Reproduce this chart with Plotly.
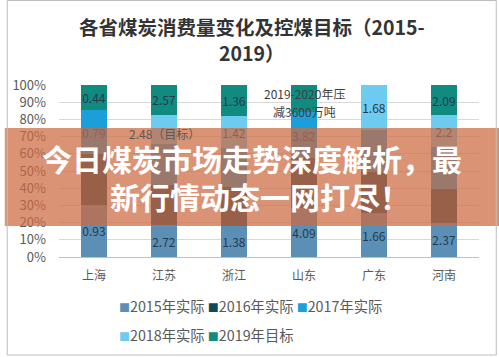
import plotly.graph_objects as go

# ---------------- data ----------------
categories = ['上海', '江苏', '浙江', '山东', '广东', '河南']
series_names = ['2015年实际', '2016年实际', '2017年实际', '2018年实际', '2019年目标']
v2015 = [0.93, 2.72, 1.38, 4.09, 1.66, 2.37]
v2016 = [0.89, 3.50, 1.70, 4.20, 1.55, 2.32]
v2017 = [0.79, 3.50, 1.70, 3.82, 1.60, 2.90]
v2018 = [0.00, 2.48, 1.42, 0.00, 1.68, 2.20]
v2019 = [0.44, 2.57, 1.36, 2.30, 0.00, 2.09]
# which data labels are shown in the original
show2015 = [1, 1, 1, 1, 1, 1]
show2016 = [1, 0, 0, 0, 0, 1]
show2017 = [1, 0, 0, 1, 0, 0]
show2018 = [0, 0, 1, 0, 1, 1]
show2019 = [1, 1, 1, 0, 0, 1]
y_tick_vals = [0, 10, 20, 30, 40, 50, 60, 70, 80, 90, 100]
y_tick_text = ['0%', '10%', '20%', '30%', '40%', '50%', '60%', '70%', '80%', '90%', '100%']
title_line1 = '各省煤炭消费量变化及控煤目标（2015-'
title_line2 = '2019）'
note_target = '2.48（目标）'
note_sd1 = '2019-2020年压'
note_sd2 = '减3600万吨'
banner_line1 = '今日煤炭市场走势深度解析，最'
banner_line2 = '新行情动态一网打尽！'

colors = ['#5b8fb5', '#0f4a5c', '#1a9fda', '#6ecbf0', '#118a80']
FONT = 'Noto Sans CJK SC'

# layout geometry (pixels)
W, H = 499, 357
ML, MR, MT, MB = 53, 20, 85, 100
PW, PH = W - ML - MR, H - MT - MB


def pxx(px):
    return (px - ML) / PW


def pxy(py):
    return (H - MB - py) / PH


series = [v2015, v2016, v2017, v2018, v2019]
shows = [show2015, show2016, show2017, show2018, show2019]

fig = go.Figure()
for name, vals, show, col in zip(series_names, series, shows, colors):
    txt = [(f'{v:g}' if s and v > 0 else '') for v, s in zip(vals, show)]
    fig.add_trace(go.Bar(
        name=name, x=categories, y=vals, marker=dict(color=col, line=dict(width=0)),
        text=txt, textposition='inside', insidetextanchor='middle', textangle=0,
        constraintext='none', texttemplate='%{text}',
        textfont=dict(family=FONT, size=12, color='#263a4c'),
        showlegend=False,
    ))

fig.update_layout(
    width=W, height=H,
    margin=dict(l=ML, r=MR, t=MT, b=MB, pad=0),
    barmode='stack', barnorm='percent', bargap=0.62,
    paper_bgcolor='white', plot_bgcolor='white',
    font=dict(family=FONT, color='#595959'),
    showlegend=False,
)
fig.update_yaxes(
    range=[0, 100], tickvals=y_tick_vals, ticktext=y_tick_text,
    showgrid=True, gridcolor='#d9d9d9', gridwidth=1, zeroline=False,
    tickfont=dict(family=FONT, size=13, color='#595959'),
    ticks='', ticklabelstandoff=12, showline=False,
)
fig.update_xaxes(
    showline=True, linecolor='#bfbfbf', linewidth=1, ticks='',
    tickfont=dict(family=FONT, size=12, color='#595959'),
    ticklabelstandoff=8,
)

ann = []
# title
ann.append(dict(text=f'<b>{title_line1}</b>', x=pxx(249), y=pxy(26), xref='paper', yref='paper',
                xanchor='center', yanchor='middle', showarrow=False,
                font=dict(family=FONT, size=19.5, color='#333333')))
ann.append(dict(text=f'<b>{title_line2}</b>', x=pxx(249), y=pxy(52), xref='paper', yref='paper',
                xanchor='center', yanchor='middle', showarrow=False,
                font=dict(family=FONT, size=19.5, color='#333333')))
# in-chart notes
ann.append(dict(text=note_target, x='江苏', y=72, xref='x', yref='y', showarrow=False,
                xanchor='center', yanchor='middle',
                font=dict(family=FONT, size=12, color='#595959')))
ann.append(dict(text=note_sd1, x=pxx(302), y=pxy(93), xref='paper', yref='paper', showarrow=False,
                xanchor='center', yanchor='middle', font=dict(family=FONT, size=12, color='#404040')))
ann.append(dict(text=note_sd2, x=pxx(302), y=pxy(112), xref='paper', yref='paper', showarrow=False,
                xanchor='center', yanchor='middle', font=dict(family=FONT, size=12, color='#404040')))


# legend rows (drawn as text with coloured squares)
def leg(items):
    parts = []
    for i in items:
        parts.append(f'<span style="color:{colors[i]};font-size:11px">■</span>{series_names[i]}')
    return ' '.join(parts)


ann.append(dict(text=leg([0, 1, 2]), x=pxx(112), y=pxy(305), xref='paper', yref='paper',
                xanchor='left', yanchor='middle', showarrow=False, align='left',
                font=dict(family=FONT, size=14.3, color='#595959')))
ann.append(dict(text=leg([3, 4]), x=pxx(112), y=pxy(334), xref='paper', yref='paper',
                xanchor='left', yanchor='middle', showarrow=False, align='left',
                font=dict(family=FONT, size=14.3, color='#595959')))
# banner text
ann.append(dict(text=f'<b>{banner_line1}</b>', x=pxx(249), y=pxy(158), xref='paper', yref='paper',
                xanchor='center', yanchor='middle', showarrow=False,
                font=dict(family=FONT, size=30, color='white')))
ann.append(dict(text=f'<b>{banner_line2}</b>', x=pxx(257), y=pxy(196), xref='paper', yref='paper',
                xanchor='center', yanchor='middle', showarrow=False,
                font=dict(family=FONT, size=30, color='white')))
fig.update_layout(annotations=ann)

# banner band and outer frame
fig.add_shape(type='rect', xref='paper', yref='paper', layer='above',
              x0=pxx(-2), x1=pxx(W + 2), y0=pxy(226), y1=pxy(128),
              fillcolor='rgba(205,105,65,0.72)', line=dict(width=0))
fig.add_shape(type='rect', xref='paper', yref='paper', layer='above',
              x0=pxx(0.5), x1=pxx(496.5), y0=pxy(355), y1=pxy(0.5),
              fillcolor='rgba(0,0,0,0)', line=dict(width=1, color='#bdbdbd'))

fig.write_html('out.html', config={'displayModeBar': False},
               post_script="document.body.style.margin='0';document.body.style.padding='0';")
